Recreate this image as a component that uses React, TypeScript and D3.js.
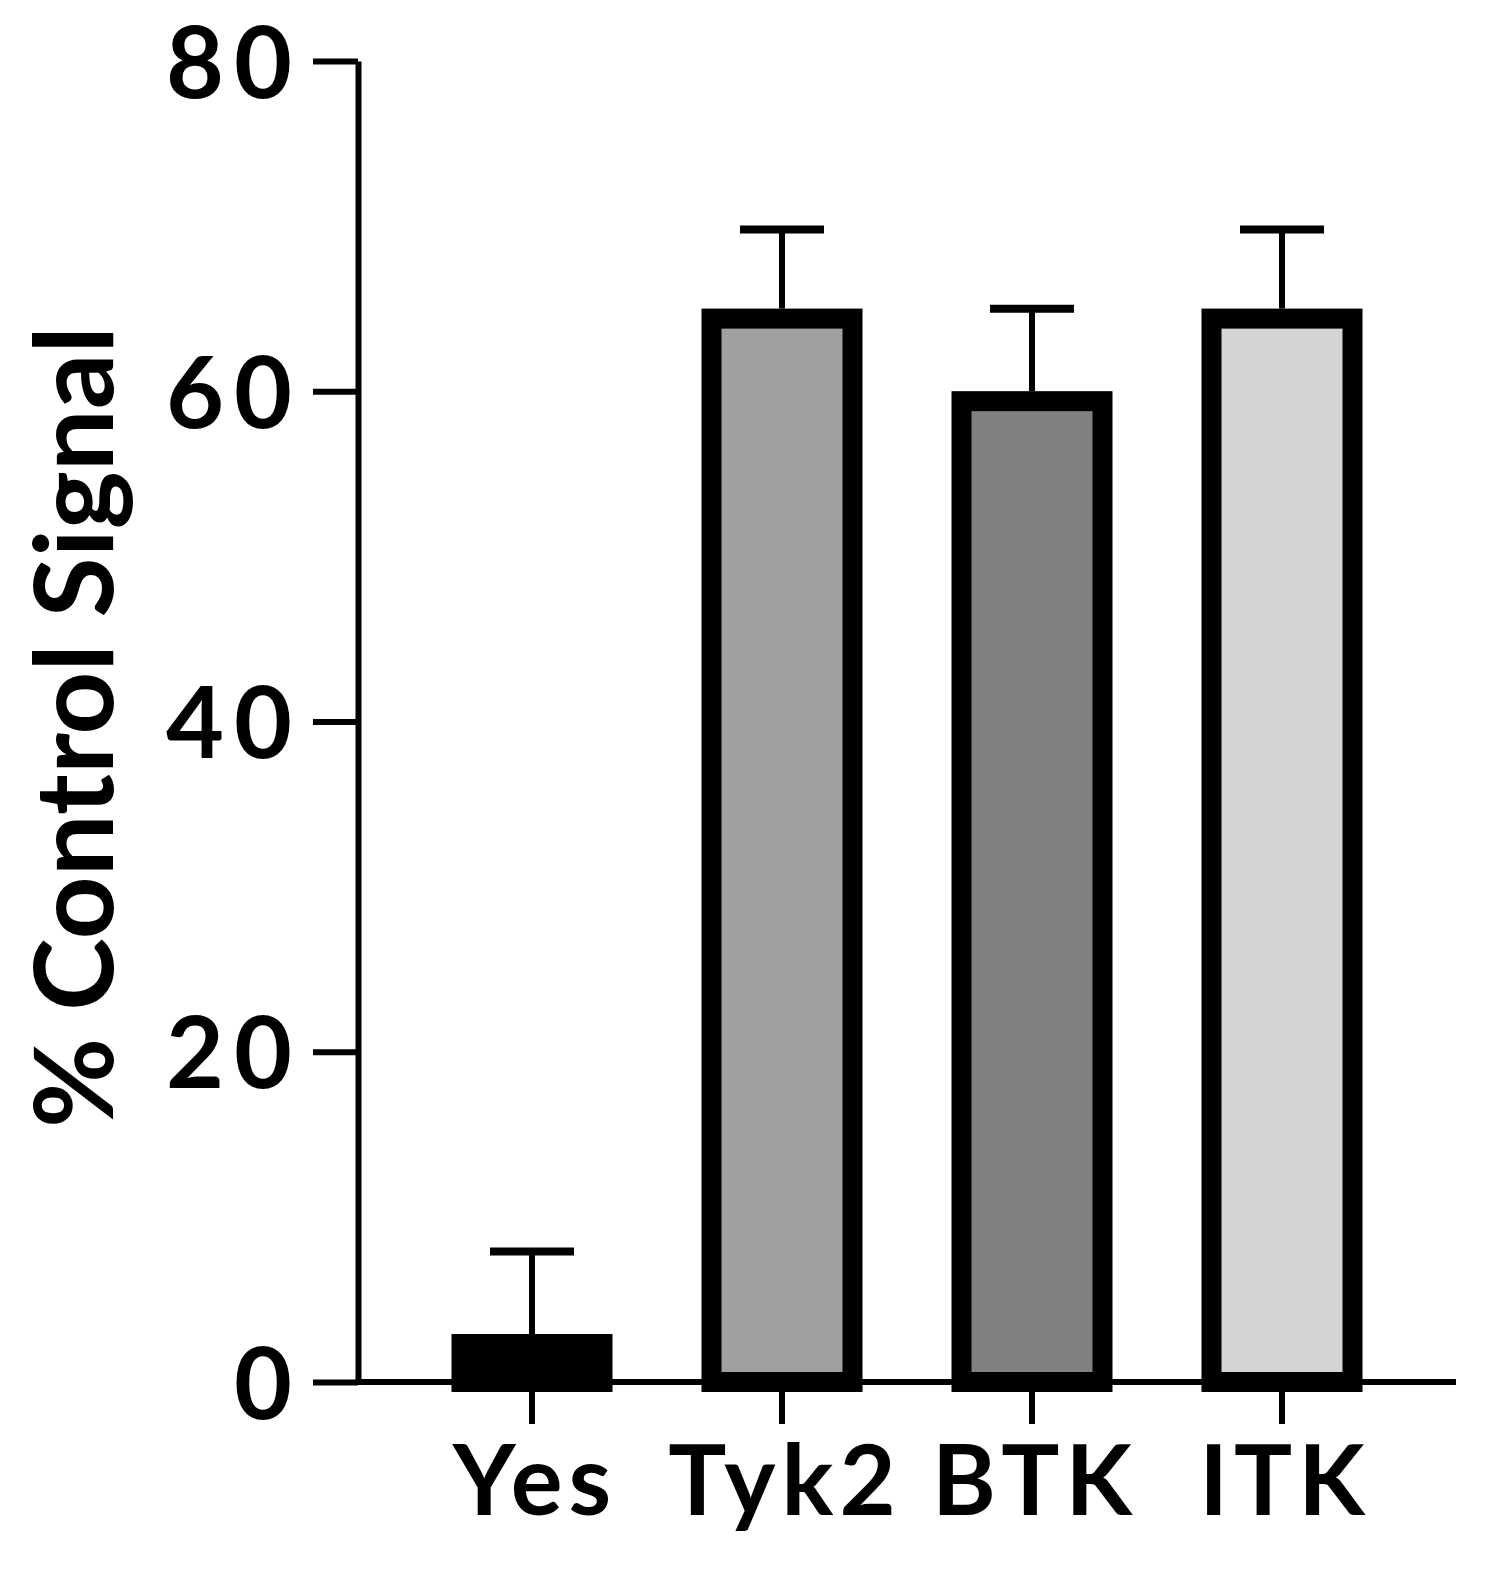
import React, { useEffect, useRef } from "react";
import * as d3 from "d3";

// values
const kinases = ["Yes", "Tyk2", "BTK", "ITK"];
const signal = [2.3, 64.4, 59.4, 64.4];
const errorTop = [7.9, 69.8, 65.0, 69.8];
const fills = ["#000000", "#a0a0a2", "#808080", "#d4d4d4"];
const yTicks = [0, 20, 40, 60, 80];

const App = () => {
  const ref = useRef<SVGSVGElement>(null);

  useEffect(() => {
    const width = 1502;
    const height = 1584;
    const font = "Lato, 'Open Sans', sans-serif";

    const svg = d3.select(ref.current);
    svg.selectAll("*").remove();
    svg.attr("width", width).attr("height", height);

    const axisX = 358;
    const y0 = 1382;

    // Y Scale
    const y = d3.scaleLinear().domain([0, 80]).range([y0, 61]);

    // X Scale
    const x = d3
      .scaleBand()
      .domain(kinases)
      .range([407, 1407])
      .paddingInner(0.436)
      .paddingOuter(0.218);

    // Bars
    const bw = x.bandwidth();
    svg
      .selectAll(".bar")
      .data(kinases)
      .enter()
      .append("rect")
      .attr("class", "bar")
      .attr("x", (d) => x(d)!)
      .attr("y", (d, i) => y(signal[i]))
      .attr("width", bw)
      .attr("height", (d, i) => y0 - y(signal[i]))
      .attr("fill", (d, i) => fills[i])
      .attr("stroke", "#000")
      .attr("stroke-width", 20)
      .attr("stroke-linejoin", "miter");

    // Error bars
    const err = svg.append("g").attr("stroke", "#000");
    kinases.forEach((k, i) => {
      const cx = x(k)! + bw / 2;
      err
        .append("line")
        .attr("x1", cx)
        .attr("x2", cx)
        .attr("y1", y(signal[i]) - 10)
        .attr("y2", y(errorTop[i]))
        .attr("stroke-width", 6);
      err
        .append("line")
        .attr("x1", cx - 42)
        .attr("x2", cx + 42)
        .attr("y1", y(errorTop[i]))
        .attr("y2", y(errorTop[i]))
        .attr("stroke-width", 8);
    });

    // Y Axis
    const yAxis = svg
      .append("g")
      .attr("transform", `translate(${axisX},0)`)
      .call(
        d3
          .axisLeft(y)
          .tickValues(yTicks)
          .tickSize(45)
          .tickSizeOuter(0)
          .tickPadding(11)
      );
    yAxis.select(".domain").attr("stroke", "#000").attr("stroke-width", 6);
    yAxis.selectAll(".tick line").attr("stroke", "#000").attr("stroke-width", 6);
    yAxis
      .selectAll(".tick text")
      .attr("fill", "#000")
      .attr("dy", "0.36em")
      .attr("letter-spacing", 10)
      .style("font-family", font)
      .style("font-weight", 700)
      .style("font-size", "100px");

    // X Axis
    const xAxis = svg
      .append("g")
      .attr("transform", `translate(0,${y0})`)
      .call(d3.axisBottom(x).tickSize(42).tickSizeOuter(0));
    xAxis
      .select(".domain")
      .attr("d", `M${axisX - 3},0H1456`)
      .attr("stroke", "#000")
      .attr("stroke-width", 6);
    xAxis.selectAll(".tick line").attr("stroke", "#000").attr("stroke-width", 6);
    xAxis
      .selectAll(".tick text")
      .attr("fill", "#000")
      .attr("y", 133)
      .attr("dy", 0)
      .attr("dx", 3)
      .attr("letter-spacing", 6)
      .style("font-family", font)
      .style("font-weight", 700)
      .style("font-size", "97px");

    // Y label
    svg
      .append("text")
      .attr("transform", `translate(113,${727}) rotate(-90)`)
      .attr("text-anchor", "middle")
      .attr("fill", "#000")
      .style("font-family", font)
      .style("font-weight", 700)
      .style("font-size", "110px")
      .text("% Control Signal");
  }, []);

  return (
    <svg
      ref={ref}
      style={{ position: "absolute", left: 0, top: 0, background: "#fff" }}
    ></svg>
  );
};

export default App;
